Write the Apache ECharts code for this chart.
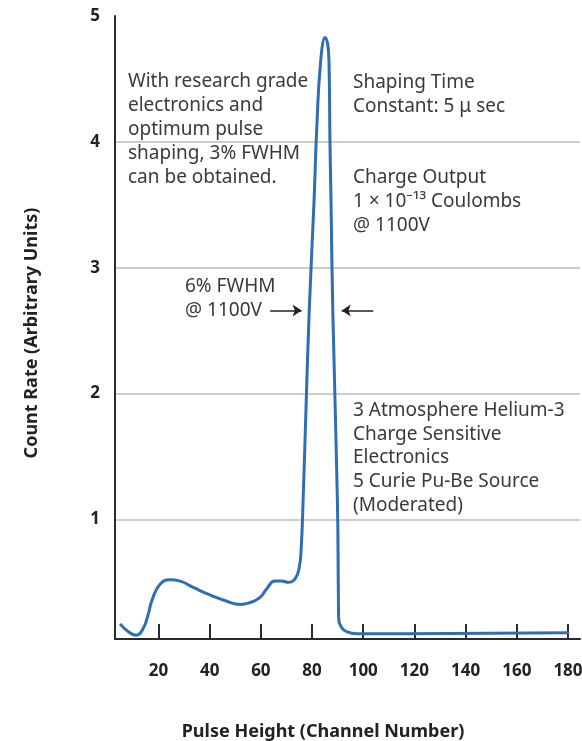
<!DOCTYPE html>
<html>
<head>
<meta charset="utf-8">
<script src="https://cdn.jsdelivr.net/npm/echarts@6/dist/echarts.min.js"></script>
<style>
html,body{margin:0;padding:0;background:#fff;}
#chart{width:582px;height:741px;}
</style>
</head>
<body>
<div id="chart"></div>
<script>
// Pulse height (channel number) and count rate (arbitrary units)
const channel = [5.0, 8.1, 11.2, 13.9, 15.9, 17.5, 20.6, 24.5, 28.4, 33.6, 40.1, 46.7, 51.9, 55.8, 59.7, 62.3, 65.5, 68.2, 70.7, 73.4, 75.0, 75.8, 76.5, 77.5, 78.9, 80.8, 81.8, 83.4, 85.1, 86.6, 87.0, 87.4, 88.1, 89.9, 90.3, 90.4, 91.6, 93.7, 97.5, 133.9, 180.5];
const countRate = [0.17, 0.11, 0.08, 0.13, 0.24, 0.36, 0.485, 0.52, 0.51, 0.46, 0.40, 0.35, 0.325, 0.34, 0.38, 0.45, 0.51, 0.51, 0.50, 0.53, 0.62, 0.79, 1.15, 1.79, 2.66, 3.54, 4.09, 4.65, 4.83, 4.65, 3.99, 3.54, 2.66, 1.15, 0.36, 0.22, 0.14, 0.106, 0.092, 0.094, 0.10];

const xTicks = [20, 40, 60, 80, 100, 120, 140, 160, 180];
const yLabels = [1, 2, 3, 4, 5];
const yGridTicks = [1, 2, 3, 4];

// FWHM arrows: [fromX, toX] at arrowY
const arrowY = 2.66;
const arrowLeft = [63.6, 75.9];
const arrowRight = [103.9, 91.6];

const noteResearch = 'With research grade\nelectronics and\noptimum pulse\nshaping, 3% FWHM\ncan be obtained.';
const noteShaping = 'Shaping Time\nConstant: 5 \u03bc sec';
const noteCharge = 'Charge Output\n1 \u00d7 10\u207b\u00b9\u00b3 Coulombs\n@ 1100V';
const noteFwhm = '6% FWHM\n@ 1100V';
const noteSetup = '3 Atmosphere Helium-3\nCharge Sensitive\nElectronics\n5 Curie Pu-Be Source\n(Moderated)';

const seriesData = channel.map((c, i) => [c, countRate[i]]);

const FONT = '"Noto Sans", sans-serif';
const noteStyle = (text, lh) => ({ text: text, font: '19px ' + FONT, fill: '#3a3a3a', lineHeight: lh });

const chart = echarts.init(document.getElementById('chart'), null, { renderer: 'canvas' });
chart.setOption({
  animation: false,
  backgroundColor: '#fff',
  grid: { left: 115, right: 2, top: 16, bottom: 102, containLabel: false, outerBoundsMode: 'none' },
  xAxis: {
    type: 'value',
    min: 3, max: 184.7,
    name: 'Pulse Height (Channel Number)',
    nameLocation: 'middle',
    nameGap: 84,
    nameTextStyle: { fontFamily: FONT, fontWeight: 'bold', fontSize: 18, color: '#222', padding: [0, 49, 0, 0] },
    axisLine: { show: true, lineStyle: { color: '#2a2a2a', width: 2 } },
    axisTick: { show: true, inside: true, length: 15, customValues: xTicks, lineStyle: { color: '#2a2a2a', width: 2 } },
    axisLabel: { customValues: xTicks, margin: 24, fontFamily: FONT, fontWeight: 'bold', fontSize: 17, color: '#222' },
    splitLine: { show: false }
  },
  yAxis: {
    type: 'value',
    min: 0.05, max: 5,
    name: 'Count Rate (Arbitrary Units)',
    nameLocation: 'middle',
    nameGap: 74,
    nameTextStyle: { fontFamily: FONT, fontWeight: 'bold', fontSize: 18, color: '#222', padding: [0, 11, 0, 0] },
    axisLine: { show: true, lineStyle: { color: '#2a2a2a', width: 2 } },
    axisTick: { show: false, customValues: yGridTicks },
    axisLabel: { customValues: yLabels, margin: 15, fontFamily: FONT, fontWeight: 'bold', fontSize: 17, color: '#222' },
    splitLine: { show: true, lineStyle: { color: '#bdbdbd', width: 1.5 } }
  },
  series: [{
    type: 'line',
    data: seriesData,
    showSymbol: false,
    smooth: 0.5,
    lineStyle: { color: '#2f6db5', width: 3 },
    itemStyle: { color: '#2f6db5' },
    markLine: {
      silent: true,
      symbol: ['none', 'arrow'],
      symbolSize: 9,
      lineStyle: { color: '#222', width: 1.5, type: 'solid' },
      label: { show: false },
      emphasis: { disabled: true },
      data: [
        [{ coord: [arrowLeft[0], arrowY] }, { coord: [arrowLeft[1], arrowY] }],
        [{ coord: [arrowRight[0], arrowY] }, { coord: [arrowRight[1], arrowY] }]
      ]
    }
  }],
  graphic: [
    { type: 'text', left: 128, top: 70, style: noteStyle(noteResearch, 24) },
    { type: 'text', left: 353, top: 71, style: noteStyle(noteShaping, 24) },
    { type: 'text', left: 353, top: 166, style: noteStyle(noteCharge, 24) },
    { type: 'text', left: 185, top: 275, style: noteStyle(noteFwhm, 24) },
    { type: 'text', left: 353, top: 399, style: noteStyle(noteSetup, 23.6) }
  ]
});
</script>
</body>
</html>
